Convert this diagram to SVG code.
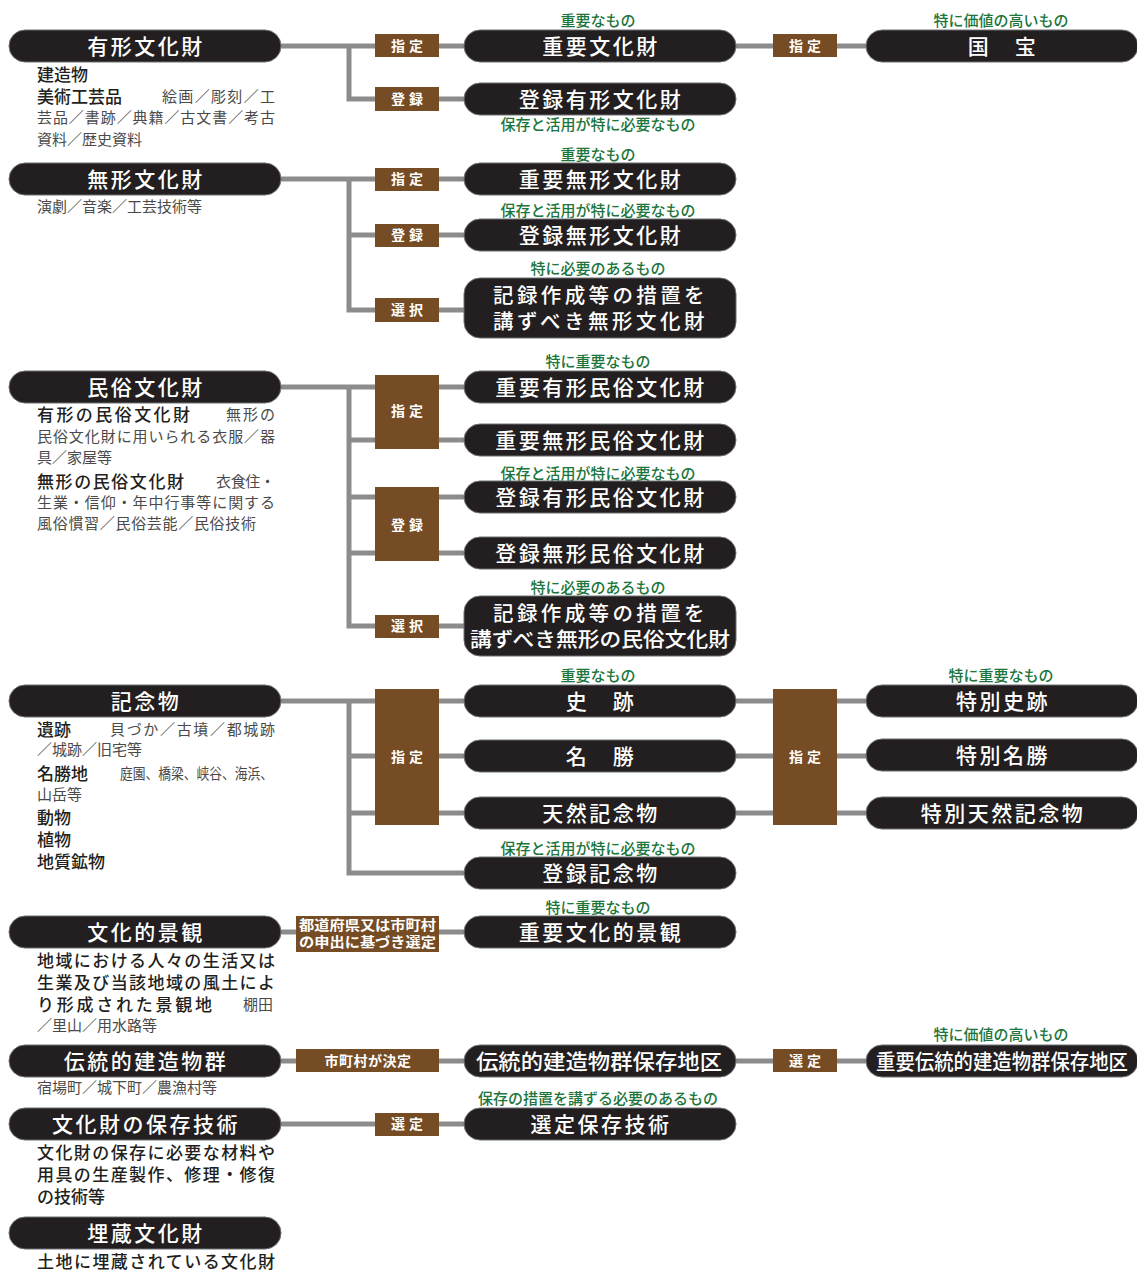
<svg xmlns="http://www.w3.org/2000/svg" width="1137" height="1273" viewBox="0 0 1137 1273">
<style>
text{font-family:"Noto Sans CJK JP","Noto Sans CJK SC",sans-serif;dominant-baseline:central;transform:translateY(-1.5px)}
.pill{fill:#231f20;stroke:#6d6e71;stroke-width:1}
.pt{fill:#fff;font-size:21px;font-weight:500;text-anchor:middle;letter-spacing:2.5px}
.box{fill:#754c24}
.bt{fill:#fff;font-size:14px;font-weight:700;text-anchor:middle;letter-spacing:4px}
.gl{fill:#1c763c;font-size:15px;font-weight:500;text-anchor:middle}
.dk{fill:#231f20;font-size:17px;font-weight:500}
.gr{fill:#4a4a4a;font-size:15px}
.con path{fill:none;stroke:#8c8c8e;stroke-width:5}
</style>
<g class="con" id="connectors">
<path d="M281 46H866M349 46V99H464"/>
<path d="M281 179H464M349 179V310H464M349 235H464"/>
<path d="M281 387H464M349 387V626H464M349 440H464M349 497H464M349 553H464"/>
<path d="M281 701H866M349 701V873H464M349 756H866M349 813H866"/>
<path d="M281 932H464"/>
<path d="M281 1061H866"/>
<path d="M281 1124H464"/>
</g>
<g id="boxes">
<g id="b1"><rect class="box" x="375" y="34" width="64" height="23"/><text class="bt" x="409" y="46">指定</text></g>
<g id="b2"><rect class="box" x="375" y="87" width="64" height="24"/><text class="bt" x="409" y="99">登録</text></g>
<g id="b3"><rect class="box" x="773" y="34" width="64" height="23"/><text class="bt" x="807" y="46">指定</text></g>
<g id="b4"><rect class="box" x="375" y="168" width="64" height="23"/><text class="bt" x="409" y="179">指定</text></g>
<g id="b5"><rect class="box" x="375" y="224" width="64" height="23"/><text class="bt" x="409" y="235">登録</text></g>
<g id="b6"><rect class="box" x="375" y="298" width="64" height="24"/><text class="bt" x="409" y="310">選択</text></g>
<g id="b7"><rect class="box" x="375" y="375" width="64" height="74"/><text class="bt" x="409" y="411">指定</text></g>
<g id="b8"><rect class="box" x="375" y="487" width="64" height="74"/><text class="bt" x="409" y="525">登録</text></g>
<g id="b9"><rect class="box" x="375" y="615" width="64" height="23"/><text class="bt" x="409" y="626">選択</text></g>
<g id="b10"><rect class="box" x="375" y="689" width="64" height="136"/><text class="bt" x="409" y="757">指定</text></g>
<g id="b11"><rect class="box" x="773" y="689" width="64" height="136"/><text class="bt" x="807" y="757">指定</text></g>
<g id="b12"><rect class="box" x="296" y="916" width="143" height="36"/><text class="bt" style="letter-spacing:0;font-size:13.5px" x="367.5" y="925.5" textLength="137" lengthAdjust="spacingAndGlyphs">都道府県又は市町村</text><text class="bt" style="letter-spacing:0;font-size:13.5px" x="367.5" y="942.5" textLength="137" lengthAdjust="spacingAndGlyphs">の申出に基づき選定</text></g>
<g id="b13"><rect class="box" x="296" y="1049" width="143" height="23"/><text class="bt" style="letter-spacing:0.5px" x="368" y="1061">市町村が決定</text></g>
<g id="b14"><rect class="box" x="773" y="1049" width="64" height="23"/><text class="bt" x="807" y="1061">選定</text></g>
<g id="b15"><rect class="box" x="375" y="1113" width="64" height="23"/><text class="bt" x="409" y="1124">選定</text></g>
</g>
<g id="left">
<g id="n-yukei"><rect class="pill" x="9" y="30" width="272" height="32" rx="16"/><text class="pt" x="146" y="46">有形文化財</text>
<text class="dk" x="37" y="75">建造物</text>
<text class="dk" x="37" y="97">美術工芸品</text><text class="gr" x="162" y="97" textLength="113">絵画／彫刻／工</text>
<text class="gr" x="37" y="118" textLength="238">芸品／書跡／典籍／古文書／考古</text>
<text class="gr" x="37" y="140">資料／歴史資料</text></g>
<g id="n-mukei"><rect class="pill" x="9" y="163" width="272" height="32" rx="16"/><text class="pt" x="146" y="179">無形文化財</text>
<text class="gr" x="37" y="207">演劇／音楽／工芸技術等</text></g>
<g id="n-minzoku"><rect class="pill" x="9" y="371" width="272" height="32" rx="16"/><text class="pt" x="146" y="387">民俗文化財</text>
<text class="dk" x="37" y="415" textLength="153">有形の民俗文化財</text><text class="gr" x="226" y="415" textLength="49">無形の</text>
<text class="gr" x="37" y="437" textLength="238">民俗文化財に用いられる衣服／器</text>
<text class="gr" x="37" y="458">具／家屋等</text>
<text class="dk" x="37" y="482" textLength="147">無形の民俗文化財</text><text class="gr" x="216" y="482" textLength="59">衣食住・</text>
<text class="gr" x="37" y="503" textLength="238">生業・信仰・年中行事等に関する</text>
<text class="gr" x="37" y="524" textLength="219">風俗慣習／民俗芸能／民俗技術</text></g>
<g id="n-kinen"><rect class="pill" x="9" y="685" width="272" height="32" rx="16"/><text class="pt" x="146" y="701">記念物</text>
<text class="dk" x="37" y="730">遺跡</text><text class="gr" x="110" y="730" textLength="165">貝づか／古墳／都城跡</text>
<text class="gr" x="37" y="750">／城跡／旧宅等</text>
<text class="dk" x="37" y="774">名勝地</text><text class="gr" x="120" y="774" textLength="153" lengthAdjust="spacingAndGlyphs">庭園、橋梁、峡谷、海浜、</text>
<text class="gr" x="37" y="795">山岳等</text>
<text class="dk" x="37" y="818">動物</text>
<text class="dk" x="37" y="840">植物</text>
<text class="dk" x="37" y="862">地質鉱物</text></g>
<g id="n-keikan"><rect class="pill" x="9" y="916" width="272" height="32" rx="16"/><text class="pt" x="146" y="932">文化的景観</text>
<text class="dk" x="37" y="961" textLength="238">地域における人々の生活又は</text>
<text class="dk" x="37" y="983" textLength="238">生業及び当該地域の風土によ</text>
<text class="dk" x="37" y="1005" textLength="175">り形成された景観地</text><text class="gr" x="243" y="1005">棚田</text>
<text class="gr" x="37" y="1026">／里山／用水路等</text></g>
<g id="n-dentou"><rect class="pill" x="9" y="1045" width="272" height="32" rx="16"/><text class="pt" x="146" y="1061">伝統的建造物群</text>
<text class="gr" x="37" y="1088">宿場町／城下町／農漁村等</text></g>
<g id="n-gijutsu"><rect class="pill" x="9" y="1108" width="272" height="32" rx="16"/><text class="pt" x="146" y="1124">文化財の保存技術</text>
<text class="dk" x="37" y="1153" textLength="238">文化財の保存に必要な材料や</text>
<text class="dk" x="37" y="1175" textLength="238">用具の生産製作、修理・修復</text>
<text class="dk" x="37" y="1197">の技術等</text></g>
<g id="n-maizou"><rect class="pill" x="9" y="1217" width="272" height="32" rx="16"/><text class="pt" x="146" y="1233">埋蔵文化財</text>
<text class="dk" x="37" y="1262" textLength="238">土地に埋蔵されている文化財</text></g>
</g>
<g id="middle">
<g id="m1"><text class="gl" x="598" y="21">重要なもの</text><rect class="pill" x="464" y="30" width="272" height="32" rx="16"/><text class="pt" x="601" y="46">重要文化財</text></g>
<g id="m2"><rect class="pill" x="464" y="83" width="272" height="32" rx="16"/><text class="pt" x="601" y="99">登録有形文化財</text><text class="gl" x="598" y="125">保存と活用が特に必要なもの</text></g>
<g id="m3"><text class="gl" x="598" y="155">重要なもの</text><rect class="pill" x="464" y="163" width="272" height="32" rx="16"/><text class="pt" x="601" y="179">重要無形文化財</text></g>
<g id="m4"><text class="gl" x="598" y="211">保存と活用が特に必要なもの</text><rect class="pill" x="464" y="219" width="272" height="32" rx="16"/><text class="pt" x="601" y="235">登録無形文化財</text></g>
<g id="m5"><text class="gl" x="598" y="269">特に必要のあるもの</text><rect class="pill" x="464" y="278" width="272" height="60" rx="16"/><text class="pt" style="font-size:20.5px" x="600" y="295" textLength="214">記録作成等の措置を</text><text class="pt" style="font-size:20.5px" x="600" y="321" textLength="214">講ずべき無形文化財</text></g>
<g id="m6"><text class="gl" x="598" y="362">特に重要なもの</text><rect class="pill" x="464" y="371" width="272" height="32" rx="16"/><text class="pt" x="601" y="387">重要有形民俗文化財</text></g>
<g id="m7"><rect class="pill" x="464" y="424" width="272" height="32" rx="16"/><text class="pt" x="601" y="440">重要無形民俗文化財</text></g>
<g id="m8"><text class="gl" x="598" y="474">保存と活用が特に必要なもの</text><rect class="pill" x="464" y="481" width="272" height="32" rx="16"/><text class="pt" x="601" y="497">登録有形民俗文化財</text></g>
<g id="m9"><rect class="pill" x="464" y="537" width="272" height="32" rx="16"/><text class="pt" x="601" y="553">登録無形民俗文化財</text></g>
<g id="m10"><text class="gl" x="598" y="588">特に必要のあるもの</text><rect class="pill" x="464" y="596" width="272" height="60" rx="16"/><text class="pt" style="font-size:20.5px" x="600" y="613" textLength="214">記録作成等の措置を</text><text class="pt" style="letter-spacing:0;font-size:20.5px" x="600" y="639" textLength="260" lengthAdjust="spacingAndGlyphs">講ずべき無形の民俗文化財</text></g>
<g id="m11"><text class="gl" x="598" y="676">重要なもの</text><rect class="pill" x="464" y="685" width="272" height="32" rx="16"/><text class="pt" x="601" y="701">史　跡</text></g>
<g id="m12"><rect class="pill" x="464" y="740" width="272" height="32" rx="16"/><text class="pt" x="601" y="756">名　勝</text></g>
<g id="m13"><rect class="pill" x="464" y="797" width="272" height="32" rx="16"/><text class="pt" x="601" y="813">天然記念物</text></g>
<g id="m14"><text class="gl" x="598" y="849">保存と活用が特に必要なもの</text><rect class="pill" x="464" y="857" width="272" height="32" rx="16"/><text class="pt" x="601" y="873">登録記念物</text></g>
<g id="m15"><text class="gl" x="598" y="908">特に重要なもの</text><rect class="pill" x="464" y="916" width="272" height="32" rx="16"/><text class="pt" x="601" y="932">重要文化的景観</text></g>
<g id="m16"><rect class="pill" x="464" y="1045" width="272" height="32" rx="16"/><text class="pt" style="letter-spacing:0" x="599" y="1061" textLength="246" lengthAdjust="spacingAndGlyphs">伝統的建造物群保存地区</text></g>
<g id="m17"><text class="gl" x="598" y="1099">保存の措置を講ずる必要のあるもの</text><rect class="pill" x="464" y="1108" width="272" height="32" rx="16"/><text class="pt" x="601" y="1124">選定保存技術</text></g>
</g>
<g id="right">
<g id="r1"><text class="gl" x="1001" y="21">特に価値の高いもの</text><rect class="pill" x="866" y="30" width="272" height="32" rx="16"/><text class="pt" x="1003" y="46">国　宝</text></g>
<g id="r2"><text class="gl" x="1001" y="676">特に重要なもの</text><rect class="pill" x="866" y="685" width="272" height="32" rx="16"/><text class="pt" x="1003" y="701">特別史跡</text></g>
<g id="r3"><rect class="pill" x="866" y="739" width="272" height="32" rx="16"/><text class="pt" x="1003" y="755">特別名勝</text></g>
<g id="r4"><rect class="pill" x="866" y="797" width="272" height="32" rx="16"/><text class="pt" x="1003" y="813">特別天然記念物</text></g>
<g id="r5"><text class="gl" x="1001" y="1035">特に価値の高いもの</text><rect class="pill" x="866" y="1045" width="272" height="32" rx="16"/><text class="pt" style="letter-spacing:0" x="1002" y="1061" textLength="252" lengthAdjust="spacingAndGlyphs">重要伝統的建造物群保存地区</text></g>
</g>
</svg>
